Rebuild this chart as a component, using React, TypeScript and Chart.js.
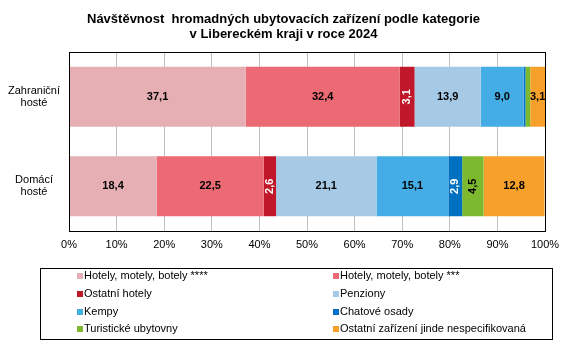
import React, { useEffect, useRef } from "react";
import { Chart, registerables } from "chart.js";

Chart.register(...registerables);

const titleLines = [
  "Návštěvnost  hromadných ubytovacích zařízení podle kategorie",
  "v Libereckém kraji v roce 2024",
];
const categories = [["Zahraniční", "hosté"], ["Domácí", "hosté"]];
const seriesNames = [
  "Hotely, motely, botely ****",
  "Hotely, motely, botely ***",
  "Ostatní hotely",
  "Penziony",
  "Kempy",
  "Chatové osady",
  "Turistické ubytovny",
  "Ostatní zařízení jinde nespecifikovaná",
];
const hotely4 = [37.1, 18.4];
const hotely3 = [32.4, 22.5];
const ostatniHotely = [3.1, 2.6];
const penziony = [13.9, 21.1];
const kempy = [9.0, 15.1];
const chatoveOsady = [0.4, 2.9];
const turistickeUbytovny = [1.0, 4.5];
const ostatniZarizeni = [3.1, 12.8];
const xTicks = [0, 10, 20, 30, 40, 50, 60, 70, 80, 90, 100];

const seriesValues = [
  hotely4,
  hotely3,
  ostatniHotely,
  penziony,
  kempy,
  chatoveOsady,
  turistickeUbytovny,
  ostatniZarizeni,
];
const colors = [
  "#E6AFB4",
  "#EB6A73",
  "#C0182A",
  "#A6CAE6",
  "#45ADE6",
  "#0070C0",
  "#7DB92F",
  "#F7A12B",
];
const labelRotated = [false, false, true, false, false, true, true, false];
const labelColors = ["#000", "#000", "#fff", "#000", "#000", "#fff", "#000", "#000"];

const FONT = "'Liberation Sans', Arial, sans-serif";

const titlePlugin = {
  id: "customTitle",
  afterDraw(chart: any) {
    const ctx = chart.ctx;
    ctx.save();
    ctx.fillStyle = "#000";
    ctx.font = `bold 13px ${FONT}`;
    ctx.textAlign = "center";
    ctx.textBaseline = "middle";
    ctx.fillText(titleLines[0], 283.5, 19);
    ctx.fillText(titleLines[1], 283.5, 34);
    ctx.restore();
  },
};

const framePlugin = {
  id: "frame",
  afterDatasetsDraw(chart: any) {
    const { ctx, chartArea } = chart;
    ctx.save();
    ctx.strokeStyle = "#000";
    ctx.lineWidth = 1;
    const l = Math.round(chartArea.left) + 0.5;
    const r = Math.round(chartArea.right) + 0.5;
    const t = Math.round(chartArea.top) + 0.5;
    const b = Math.round(chartArea.bottom) + 0.5;
    ctx.strokeRect(l, t, r - l, b - t);
    ctx.restore();
  },
};

const labelPlugin = {
  id: "barLabels",
  afterDatasetsDraw(chart: any) {
    const { ctx, chartArea } = chart;
    ctx.save();
    ctx.beginPath();
    ctx.rect(chartArea.left, chartArea.top, chartArea.right - chartArea.left, chartArea.bottom - chartArea.top);
    ctx.clip();
    ctx.font = `bold 11px ${FONT}`;
    ctx.textAlign = "center";
    ctx.textBaseline = "middle";
    chart.data.datasets.forEach((ds: any, di: number) => {
      const meta = chart.getDatasetMeta(di);
      meta.data.forEach((el: any, i: number) => {
        const v = ds.data[i];
        if (v < 2) return;
        const { x, y, base } = el.getProps(["x", "y", "base"], true);
        const cx = (x + base) / 2;
        const txt = v.toFixed(1).replace(".", ",");
        ctx.fillStyle = labelColors[di];
        if (labelRotated[di]) {
          ctx.save();
          ctx.translate(cx, y);
          ctx.rotate(-Math.PI / 2);
          ctx.fillText(txt, 0, 0);
          ctx.restore();
        } else {
          ctx.fillText(txt, cx, y);
        }
      });
    });
    ctx.restore();
  },
};

const legendPlugin = {
  id: "customLegend",
  afterDraw(chart: any) {
    const ctx = chart.ctx;
    ctx.save();
    ctx.strokeStyle = "#000";
    ctx.lineWidth = 1;
    ctx.strokeRect(40.5, 268.5, 512, 71);
    ctx.font = `11px ${FONT}`;
    ctx.textBaseline = "middle";
    ctx.textAlign = "left";
    chart.data.datasets.forEach((ds: any, i: number) => {
      const col = i % 2;
      const row = Math.floor(i / 2);
      const sx = col === 0 ? 77 : 333;
      const yy = 276 + row * 17.8;
      ctx.fillStyle = ds.backgroundColor;
      ctx.fillRect(sx, Math.round(yy - 3), 6, 6);
      ctx.fillStyle = "#000";
      ctx.fillText(ds.label, sx + 7, yy);
    });
    ctx.restore();
  },
};

export default function App() {
  const ref = useRef<HTMLCanvasElement | null>(null);
  useEffect(() => {
    if (!ref.current) return;
    const chart = new Chart(ref.current, {
      type: "bar",
      data: {
        labels: categories,
        datasets: seriesNames.map((name, i) => ({
          label: name,
          data: seriesValues[i],
          backgroundColor: colors[i],
          borderWidth: 0,
          categoryPercentage: 1,
          barPercentage: 0.67,
        })),
      },
      options: {
        indexAxis: "y",
        responsive: false,
        animation: false,
        devicePixelRatio: 1,
        layout: { padding: { left: 0, right: 22, top: 52, bottom: 91 } },
        plugins: {
          legend: { display: false },
          title: { display: false },
          tooltip: { enabled: false },
        },
        scales: {
          x: {
            stacked: true,
            min: 0,
            max: 100,
            afterBuildTicks(scale: any) {
              scale.ticks = xTicks.map((v) => ({ value: v }));
            },
            afterFit(scale: any) {
              scale.height = 22;
            },
            grid: { color: "#BFBFBF", drawTicks: false, lineWidth: 1 },
            border: { display: false },
            ticks: {
              padding: 7,
              color: "#000",
              font: { family: FONT, size: 11 },
              callback: (v: any) => `${v}%`,
            },
          },
          y: {
            stacked: true,
            afterFit(scale: any) {
              scale.width = 69;
            },
            grid: { display: false, drawTicks: false },
            border: { display: false },
            ticks: {
              crossAlign: "center",
              padding: 9,
              color: "#000",
              font: { family: FONT, size: 11, lineHeight: 1.1 },
            },
          },
        },
      },
      plugins: [titlePlugin, labelPlugin, framePlugin, legendPlugin],
    } as any);
    return () => chart.destroy();
  }, []);
  return (
    <div style={{ position: "fixed", left: 0, top: 0, width: 567, height: 344, background: "#fff" }}>
      <canvas ref={ref} width={567} height={344} style={{ display: "block" }} />
    </div>
  );
}
